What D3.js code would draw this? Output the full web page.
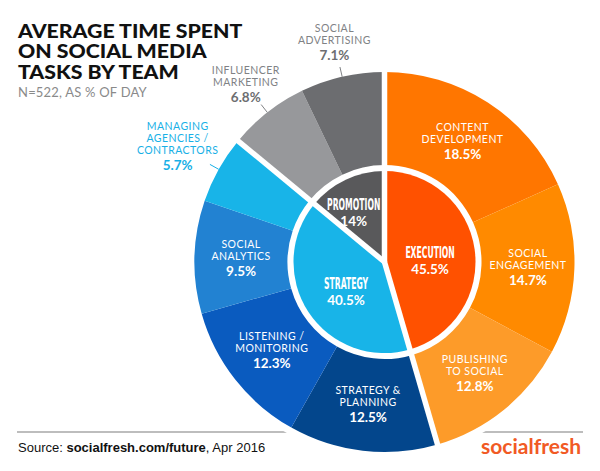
<!DOCTYPE html>
<html>
<head>
<meta charset="utf-8">
<script src="https://cdn.jsdelivr.net/npm/d3@7"></script>
<style>
  body { margin: 0; background: #fff; }
  svg { display: block; }
</style>
</head>
<body>
<script>
// inner ring: teams
const groupNames = ["EXECUTION", "STRATEGY", "PROMOTION"];
const groupValues = [45.5, 40.5, 14];

// outer ring: tasks (clockwise from 12 o'clock)
const taskLines = [
  ["CONTENT", "DEVELOPMENT"],
  ["SOCIAL", "ENGAGEMENT"],
  ["PUBLISHING", "TO SOCIAL"],
  ["STRATEGY &", "PLANNING"],
  ["LISTENING /", "MONITORING"],
  ["SOCIAL", "ANALYTICS"],
  ["MANAGING", "AGENCIES /", "CONTRACTORS"],
  ["INFLUENCER", "MARKETING"],
  ["SOCIAL", "ADVERTISING"]
];
const taskValues = [18.5, 14.7, 12.8, 12.5, 12.3, 9.5, 5.7, 6.8, 7.1];
const taskGroup = [0, 0, 0, 1, 1, 1, 1, 2, 2];

const titleLines = ["AVERAGE TIME SPENT", "ON SOCIAL MEDIA", "TASKS BY TEAM"];
const subtitle = "N=522, AS % OF DAY";

// colours
const groupColors = ["#ff5100", "#18b4e8", "#59595b"];
const taskColors = ["#ff7600", "#ff8a00", "#fd9b29", "#03468c", "#0a5bbf", "#2282d2", "#18b4e8", "#97989b", "#6c6d70"];
const outsideInk = ["#fff", "#18b0e6", "#808285"];
const outsidePct = ["#fff", "#18b0e6", "#6d6e71"];

const WIDTH = 600, HEIGHT = 471;
const cx = 384.5, cy = 262;
const rIn = 91, rRing = 97, rOut = 190;
const FONT = "Lato, 'Open Sans', sans-serif";

const svg = d3.select('body')
  .append('svg')
  .attr('width', WIDTH)
  .attr('height', HEIGHT);

// title (stretched a bit, the original face is wider)
svg.append('g')
  .attr('transform', 'translate(18,0) scale(1.15,1)')
  .selectAll('text')
  .data(titleLines)
  .enter()
  .append('text')
  .attr('x', 0)
  .attr('y', (d, i) => 38 + i * 20.5)
  .attr('font-family', FONT)
  .attr('font-weight', 900)
  .attr('font-size', 18.5)
  .attr('fill', '#111')
  .text(d => d);

svg.append('text')
  .attr('x', 18)
  .attr('y', 97)
  .attr('font-family', FONT)
  .attr('font-size', 13)
  .attr('letter-spacing', 0.2)
  .attr('fill', '#8a8a8a')
  .text(subtitle);

// footer rule, broken round the pie
svg.append('line')
  .attr('x1', 17).attr('x2', 583)
  .attr('y1', 432).attr('y2', 432)
  .attr('stroke', '#bdbdbd')
  .attr('stroke-width', 2);

const src = svg.append('text')
  .attr('x', 18)
  .attr('y', 452)
  .attr('font-family', "'Liberation Sans', Arial, sans-serif")
  .attr('font-size', 13)
  .attr('fill', '#111');
src.append('tspan').text('Source: ');
src.append('tspan').attr('font-weight', 'bold').text('socialfresh.com/future');
src.append('tspan').text(', Apr 2016');

svg.append('text')
  .attr('x', 581)
  .attr('y', 454)
  .attr('text-anchor', 'end')
  .attr('font-family', FONT)
  .attr('font-weight', 700)
  .attr('font-size', 21)
  .attr('fill', '#f15a24')
  .text('socialfresh');

const g = svg.append('g')
  .attr('transform', 'translate(' + [cx, cy] + ')');

g.append('circle')
  .attr('r', 197)
  .attr('fill', '#fff');

// angles
const pie = d3.pie().sort(null).value(d => d);
const groupArcs = pie(groupValues);

let taskArcs = [];
groupArcs.forEach(function(ga, gi) {
  let idx = taskGroup.map((t, i) => t === gi ? i : -1).filter(i => i >= 0);
  let sub = d3.pie().sort(null).value(d => taskValues[d])
    .startAngle(ga.startAngle).endAngle(ga.endAngle)(idx);
  sub.forEach(s => taskArcs.push({ i: s.data, startAngle: s.startAngle, endAngle: s.endAngle }));
});

const outerArc = d3.arc().innerRadius(rRing).outerRadius(rOut);
const innerArc = d3.arc().innerRadius(0).outerRadius(rIn);

g.append('g').selectAll('path')
  .data(taskArcs)
  .enter()
  .append('path')
  .attr('d', outerArc)
  .attr('fill', d => taskColors[d.i]);

g.append('g').selectAll('path')
  .data(groupArcs)
  .enter()
  .append('path')
  .attr('d', innerArc)
  .attr('fill', (d, i) => groupColors[i]);

// white gaps at team boundaries
g.append('g').selectAll('line')
  .data(groupArcs)
  .enter()
  .append('line')
  .attr('x1', 0).attr('y1', 0)
  .attr('x2', d => 200 * Math.sin(d.startAngle))
  .attr('y2', d => -200 * Math.cos(d.startAngle))
  .attr('stroke', '#fff')
  .attr('stroke-width', 5.5);

function polar(a, r) { return [r * Math.sin(a), -r * Math.cos(a)]; }

// task labels
taskArcs.forEach(function(d) {
  let lines = taskLines[d.i];
  let n = lines.length;
  let blockH = (n - 1) * 12 + 16 + 7;
  let a = (d.startAngle + d.endAngle) / 2;
  let outside = taskValues[d.i] < 8;
  let p = outside ? polar(a, rOut + blockH) : outerArc.centroid(d);
  let gi = taskGroup[d.i];
  let y0 = p[1] - blockH / 2 + 7;

  let t = g.append('text')
    .attr('text-anchor', 'middle')
    .attr('font-family', FONT);
  lines.forEach(function(l, k) {
    t.append('tspan')
      .attr('x', p[0])
      .attr('y', y0 + k * 12)
      .attr('font-size', 10.5)
      .attr('letter-spacing', 0.45)
      .attr('fill', outside ? outsideInk[gi] : '#fff')
      .text(l);
  });
  t.append('tspan')
    .attr('x', p[0])
    .attr('y', y0 + (n - 1) * 12 + 16)
    .attr('font-size', 13.5)
    .attr('font-weight', 700)
    .attr('letter-spacing', 0)
    .attr('fill', outside ? outsidePct[gi] : '#fff')
    .text(taskValues[d.i] + '%');

  if (outside) {
    let p1 = polar(a, rOut), p2 = polar(a, rOut + 10);
    g.append('line')
      .attr('x1', p1[0]).attr('y1', p1[1])
      .attr('x2', p2[0]).attr('y2', p2[1])
      .attr('stroke', outsideInk[gi])
      .attr('stroke-width', 1);
  }
});

// team labels; the narrow slice gets its label pushed out and away from the gap
groupArcs.forEach(function(d, i) {
  let a = (d.startAngle + d.endAngle) / 2;
  let small = groupValues[i] < 20;
  let p = small ? polar(a - 0.08, 62) : polar(a, 46);
  g.append('text')
    .attr('transform', 'translate(' + [p[0], p[1] + 2] + ') scale(0.57,1)')
    .attr('text-anchor', 'middle')
    .attr('font-family', "'Liberation Sans Narrow', 'DejaVu Sans Condensed', sans-serif")
    .attr('font-weight', 700)
    .attr('font-size', 15)
    .attr('fill', '#fff')
    .text(groupNames[i]);
  g.append('text')
    .attr('x', p[0])
    .attr('y', p[1] + 18)
    .attr('text-anchor', 'middle')
    .attr('font-family', FONT)
    .attr('font-weight', 700)
    .attr('font-size', 13.5)
    .attr('fill', '#fff')
    .text(groupValues[i] + '%');
});
</script>
</body>
</html>
